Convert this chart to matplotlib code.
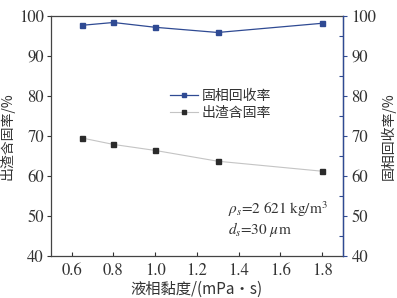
import matplotlib
matplotlib.use("Agg")
import matplotlib.pyplot as plt
from matplotlib.ticker import MultipleLocator

plt.rcParams['font.family'] = ['STIXGeneral', 'Noto Sans CJK SC']
plt.rcParams['mathtext.fontset'] = 'stix'

viscosity = [0.65, 0.8, 1.0, 1.3, 1.8]
recovery = [97.7, 98.4, 97.2, 95.9, 98.2]
solid_content = [69.5, 67.9, 66.4, 63.7, 61.2]
x_ticks = [0.6, 0.8, 1.0, 1.2, 1.4, 1.6, 1.8]
y_ticks = [40, 50, 60, 70, 80, 90, 100]

blue = '#2f4a93'
dark = '#2b2b2b'
gray_line = '#c4c4c4'
txt = '#333333'

fig = plt.figure(figsize=(3.97, 2.98), dpi=100)
ax = fig.add_axes([0.128, 0.141, 0.736, 0.805])
ax2 = ax.twinx()

l1, = ax2.plot(viscosity, recovery, '-', color=blue, lw=0.9, marker='s', ms=3.6,
               mfc=blue, mec=blue, label='固相回收率')
l2, = ax.plot(viscosity, solid_content, '-', color=gray_line, lw=0.8, marker='s', ms=3.6,
              mfc=dark, mec=dark, label='出渣含固率')

for a in (ax, ax2):
    a.set_ylim(40, 100)
    a.set_yticks(y_ticks)
ax.set_xlim(0.5, 1.9)
ax.set_xticks(x_ticks)
ax.set_xticklabels([f'{v:.1f}' for v in x_ticks])

ax.tick_params(axis='x', direction='in', length=3, width=0.8, labelsize=12, colors=txt, pad=5)
ax.tick_params(axis='y', direction='out', length=3, width=0.8, labelsize=12, colors=txt, pad=2)
ax2.yaxis.set_minor_locator(MultipleLocator(5))
ax2.tick_params(axis='y', which='major', direction='out', length=3, width=0.8, labelsize=12,
                colors=blue, labelcolor=txt, pad=3)
ax2.tick_params(axis='y', which='minor', direction='in', length=3, width=0.8, colors=blue)

for s in ('left', 'bottom', 'top'):
    ax.spines[s].set_color('#444444')
    ax.spines[s].set_linewidth(0.9)
ax2.spines['right'].set_color(blue)
ax2.spines['right'].set_linewidth(1.0)
for s in ('left', 'bottom', 'top'):
    ax2.spines[s].set_visible(False)

cjk = ['Noto Sans CJK SC', 'STIXGeneral']
ax.set_xlabel('液相黏度/(mPa·s)', fontsize=11, family=['Noto Sans CJK SC'], color=txt, labelpad=1)
ax.set_ylabel('出渣含固率/%', fontsize=10, family=cjk, color=txt, labelpad=3)
ax2.set_ylabel('固相回收率/%', fontsize=10, family=cjk, color=txt, rotation=90, labelpad=3)

leg = ax.legend(handles=[l1, l2], loc='upper left', bbox_to_anchor=(0.365, 0.75),
                frameon=False, prop={'family': cjk, 'size': 10}, handlelength=2.0,
                handletextpad=0.3, labelspacing=0.25, labelcolor=txt, markerscale=0.8)

ax.text(0.605, 0.175, r'$\rho_s$=2 621 kg/m$^3$', transform=ax.transAxes, fontsize=11, color=txt)
ax.text(0.605, 0.09, r'$d_s$=30 $\mu$m', transform=ax.transAxes, fontsize=11, color=txt)

fig.savefig('out.png', dpi=100)
